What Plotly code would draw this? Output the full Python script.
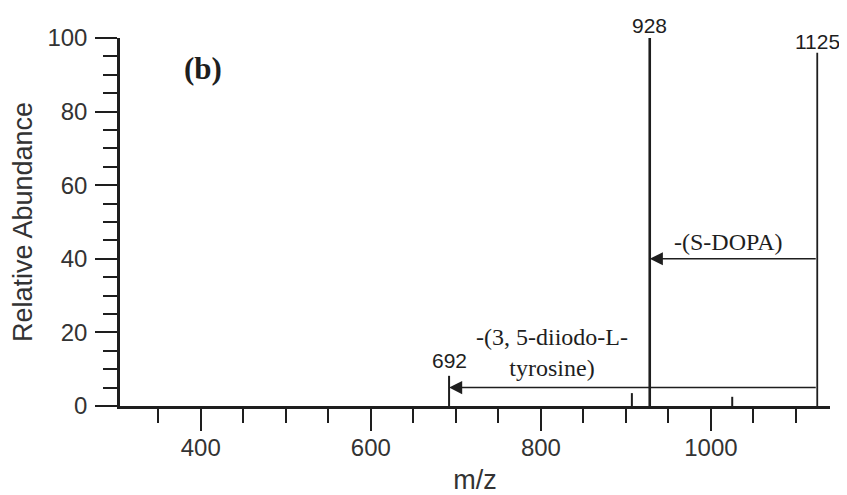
import plotly.graph_objects as go

# Peak data (m/z, relative abundance)
mz = [692, 907, 928, 1025, 1125]
abundance = [8.2, 3.5, 100, 2.5, 96]

# Peak labels
label_mz = [928, 1125, 692]
label_text = ["928", "1125", "692"]

# Neutral-loss arrows
arrow_from = [1125, 1125]
arrow_to = [928, 692]
arrow_y = [40, 5]
arrow_text = ["-(S-DOPA)", "-(3, 5-diiodo-L-<br>tyrosine)"]
arrow_text_x = [1020, 813]
arrow_text_y = [44.5, 14.6]

INK = "#1e1e1e"
SANS = "Liberation Sans, Arial, sans-serif"
SERIF = "Liberation Serif, Times New Roman, serif"

line_w = {928: 2.6, 1125: 1.8}

fig = go.Figure()
for m, a in zip(mz, abundance):
    fig.add_trace(go.Scatter(x=[m, m], y=[0, a], mode="lines",
                             line=dict(color=INK, width=line_w.get(m, 2)),
                             hoverinfo="skip", showlegend=False, cliponaxis=False))

ann = []
peak_lookup = dict(zip(mz, abundance))
shifts = {928: 13, 1125: 11, 692: 15}
for m, t in zip(label_mz, label_text):
    ann.append(dict(x=m, y=peak_lookup[m], text=t, showarrow=False,
                    xanchor="center", yanchor="middle", yshift=shifts[m],
                    font=dict(family=SANS, size=21, color=INK)))
for f, to, yy in zip(arrow_from, arrow_to, arrow_y):
    ann.append(dict(x=to, y=yy, ax=f, ay=yy, axref="x", ayref="y",
                    xref="x", yref="y", text="", showarrow=True,
                    arrowhead=2, arrowsize=1.75, arrowwidth=1.5,
                    arrowcolor=INK, standoff=0))
for t, tx, ty in zip(arrow_text, arrow_text_x, arrow_text_y):
    ann.append(dict(x=tx, y=ty, text=t, showarrow=False,
                    xanchor="center", yanchor="middle",
                    font=dict(family=SERIF, size=24, color=INK)))
ann.append(dict(x=403, y=91.8, text="<b>(b)</b>", showarrow=False,
                xanchor="center", yanchor="middle",
                font=dict(family=SERIF, size=31, color=INK)))

fig.update_layout(
    width=839, height=487,
    margin=dict(l=112, r=17, t=30, b=89),
    paper_bgcolor="white", plot_bgcolor="white",
    annotations=ann,
    xaxis=dict(range=[305, 1140], tick0=0, dtick=200, automargin=False,
               showline=True, linecolor=INK, linewidth=2.5,
               ticks="outside", ticklen=22, tickwidth=2, tickcolor=INK,
               minor=dict(dtick=50, tick0=0, ticks="outside", ticklen=14,
                          tickwidth=2, tickcolor=INK, showgrid=False),
               showgrid=False, zeroline=False, ticklabelstandoff=-4,
               tickfont=dict(family=SANS, size=24, color="#333"),
               title=dict(text="m/z", font=dict(family=SANS, size=27, color="#333"),
                          standoff=12)),
    yaxis=dict(range=[0, 100], tick0=0, dtick=20, automargin=False,
               showline=True, linecolor=INK, linewidth=2.5,
               ticks="outside", ticklen=22, tickwidth=2, tickcolor=INK,
               minor=dict(dtick=5, tick0=0, ticks="outside", ticklen=14,
                          tickwidth=2, tickcolor=INK, showgrid=False),
               showgrid=False, zeroline=False, ticklabelstandoff=3,
               tickfont=dict(family=SANS, size=24, color="#333"),
               title=dict(text="Relative Abundance",
                          font=dict(family=SANS, size=27, color="#333"),
                          standoff=10)),
)

fig.write_html("out.html")
